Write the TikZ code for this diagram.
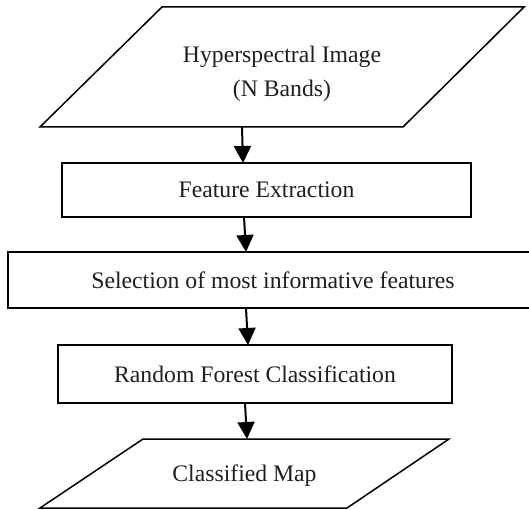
\documentclass[tikz,border=0pt]{standalone}
\usepackage{fontspec}
\setmainfont{Liberation Serif}
\usetikzlibrary{arrows.meta}
\begin{document}
\begin{tikzpicture}[x=1pt,y=-1pt,
  every node/.style={inner sep=0pt, outer sep=0pt,
    font=\fontsize{23.7}{34}\selectfont, text=black!88},
  frame/.style={draw=none},
  stepbox/.style={draw, line width=1.5pt, text depth=0pt},
  outline/.style={draw, line width=1.5pt},
  flow/.style={draw, line width=2pt, -{Triangle[width=17pt,length=17pt]}}]
  \useasboundingbox (0,0) rectangle (529,510);

  % input data: parallelogram
  \node[frame, minimum width=484pt, minimum height=120pt] (hsi) at (282,67) {};
  \draw[outline] ([xshift=122pt]hsi.north west) -- (hsi.north east)
    -- ([xshift=-121pt]hsi.south east) -- (hsi.south west) -- cycle;
  \node[align=center] (hsilabel) at (282,74) {Hyperspectral Image\\(N Bands)};

  % processing steps
  \node[stepbox, minimum width=409pt, minimum height=54pt] (fe) at (266.5,190) {Feature Extraction};
  \node[stepbox, minimum width=530pt, minimum height=56pt] (sel) at (273,280) {Selection of most informative features};
  \node[stepbox, minimum width=394pt, minimum height=58pt] (rf) at (255,374) {Random Forest Classification};

  % output: parallelogram
  \node[frame, minimum width=409pt, minimum height=69pt] (map) at (244.5,473.5) {};
  \draw[outline] ([xshift=103pt]map.north west) -- (map.north east)
    -- ([xshift=-102pt]map.south east) -- (map.south west) -- cycle;
  \node[text depth=0pt] (maplabel) at (244.5,473.5) {Classified Map};

  % flow arrows
  \draw[flow] ([xshift=-40pt]hsi.south) -- ([xshift=-23.5pt]fe.north);
  \draw[flow] ([xshift=-22.5pt]fe.south) -- ([xshift=-27pt]sel.north);
  \draw[flow] ([xshift=-27pt]sel.south) -- ([xshift=-7pt]rf.north);
  \draw[flow] ([xshift=-10pt]rf.south) -- ([xshift=2.5pt]map.north);
\end{tikzpicture}
\end{document}
